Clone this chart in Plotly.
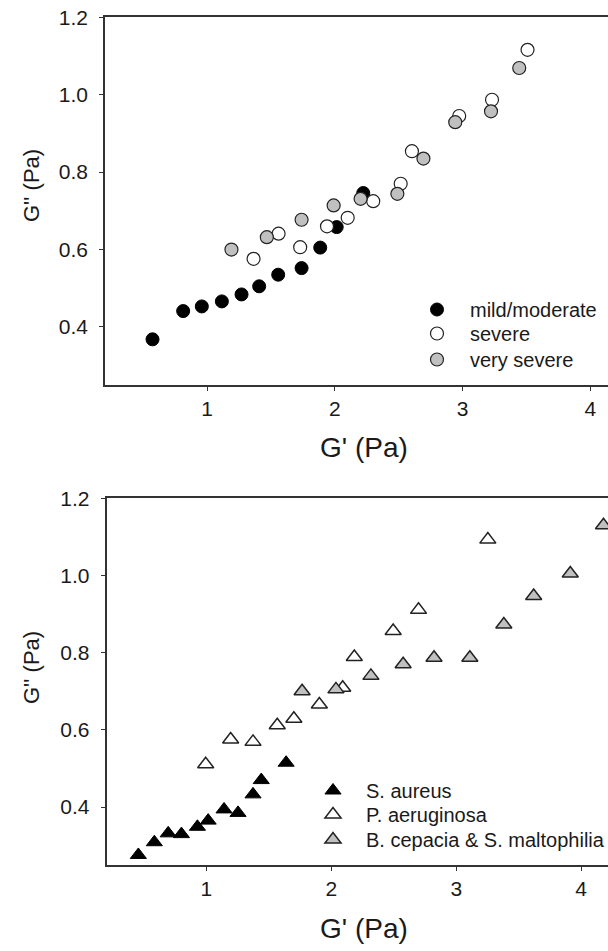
import plotly.graph_objects as go

# ---------------- data ----------------
# Top panel: disease severity
mild_x = [0.572, 0.812, 0.958, 1.115, 1.269, 1.407, 1.556, 1.739, 1.885, 2.014, 2.222]
mild_y = [0.368, 0.441, 0.453, 0.466, 0.484, 0.505, 0.535, 0.552, 0.605, 0.658, 0.746]
severe_x = [1.363, 1.559, 1.728, 1.938, 2.100, 2.300, 2.515, 2.603, 2.973, 3.230, 3.508]
severe_y = [0.576, 0.641, 0.606, 0.660, 0.682, 0.725, 0.770, 0.854, 0.945, 0.987, 1.116]
vsevere_x = [1.190, 1.467, 1.739, 1.990, 2.201, 2.489, 2.693, 2.942, 3.222, 3.443]
vsevere_y = [0.600, 0.632, 0.677, 0.714, 0.731, 0.744, 0.835, 0.929, 0.957, 1.069]

# Bottom panel: pathogens
saureus_x = [0.455, 0.583, 0.694, 0.800, 0.928, 1.014, 1.141, 1.253, 1.373, 1.439, 1.638]
saureus_y = [0.276, 0.309, 0.332, 0.330, 0.349, 0.365, 0.394, 0.385, 0.433, 0.470, 0.515]
paer_x = [0.994, 1.194, 1.373, 1.567, 1.700, 1.904, 2.091, 2.184, 2.495, 2.698, 3.253]
paer_y = [0.511, 0.575, 0.569, 0.612, 0.629, 0.666, 0.709, 0.789, 0.856, 0.911, 1.093]
bcep_x = [1.766, 2.037, 2.317, 2.575, 2.822, 3.109, 3.381, 3.620, 3.913, 4.179]
bcep_y = [0.700, 0.705, 0.740, 0.770, 0.787, 0.787, 0.873, 0.947, 1.005, 1.130]

top_names = ["mild/moderate", "severe", "very severe"]
bottom_names = ["S. aureus", "P. aeruginosa", "B. cepacia & S. maltophilia"]

y_ticks = [0.4, 0.6, 0.8, 1.0, 1.2]
y_tick_text = ["0.4", "0.6", "0.8", "1.0", "1.2"]
x_ticks = [1, 2, 3, 4]
x_tick_text = ["1", "2", "3", "4"]
x_title = "G' (Pa)"
y_title = "G'' (Pa)"

# ---------------- styling ----------------
W, H = 608, 951
FONT = "Arial, Liberation Sans, sans-serif"
AX = "#333333"
TXT = "#1a1a1a"
GRAY = "#c0c0c0"
EDGE = "#222222"


def px_x(p):
    return p / W


def px_y(p):
    return 1 - p / H


fig = go.Figure()

CIRC = 13
TRI = 14
fig.add_trace(go.Scatter(x=mild_x, y=mild_y, mode="markers", name=top_names[0],
                         marker=dict(symbol="circle", size=CIRC, color="black", line=dict(color="black", width=1)),
                         xaxis="x", yaxis="y", legend="legend"))
fig.add_trace(go.Scatter(x=severe_x, y=severe_y, mode="markers", name=top_names[1],
                         marker=dict(symbol="circle", size=CIRC, color="white", line=dict(color=EDGE, width=1.2)),
                         xaxis="x", yaxis="y", legend="legend2"))
fig.add_trace(go.Scatter(x=vsevere_x, y=vsevere_y, mode="markers", name=top_names[2],
                         marker=dict(symbol="circle", size=CIRC, color=GRAY, line=dict(color=EDGE, width=1.2)),
                         xaxis="x", yaxis="y", legend="legend3"))

fig.add_trace(go.Scatter(x=saureus_x, y=saureus_y, mode="markers", name=bottom_names[0],
                         marker=dict(symbol="triangle-up", size=TRI, color="black", line=dict(color="black", width=1)),
                         xaxis="x2", yaxis="y2", legend="legend4"))
fig.add_trace(go.Scatter(x=paer_x, y=paer_y, mode="markers", name=bottom_names[1],
                         marker=dict(symbol="triangle-up", size=TRI, color="white", line=dict(color=EDGE, width=1.5)),
                         xaxis="x2", yaxis="y2", legend="legend5"))
fig.add_trace(go.Scatter(x=bcep_x, y=bcep_y, mode="markers", name=bottom_names[2],
                         marker=dict(symbol="triangle-up", size=TRI, color=GRAY, line=dict(color=EDGE, width=1.5)),
                         xaxis="x2", yaxis="y2", legend="legend6"))

axis_common = dict(showgrid=False, zeroline=False, showline=True, linecolor=AX, linewidth=1.5,
                   ticks="outside", ticklen=4, tickwidth=1.2, tickcolor=AX,
                   tickfont=dict(family=FONT, size=21, color=TXT))


def leg(xpix, toppix):
    return dict(x=px_x(xpix), y=px_y(toppix), xanchor="left", yanchor="top",
                bgcolor="rgba(0,0,0,0)", borderwidth=0, itemwidth=56,
                font=dict(family=FONT, size=20, color=TXT))


fig.update_layout(
    width=W, height=H,
    margin=dict(l=0, r=0, t=0, b=0, autoexpand=False),
    paper_bgcolor="white", plot_bgcolor="white",
    font=dict(family=FONT, color=TXT),
    xaxis=dict(domain=[px_x(105), 1], anchor="y", range=[0.2, 4.138], mirror=True,
               tickvals=x_ticks, ticktext=x_tick_text, ticklabelstandoff=0, **axis_common),
    yaxis=dict(domain=[px_y(385), px_y(17.3)], anchor="x", range=[0.25, 1.2], mirror=False,
               tickvals=y_ticks, ticktext=y_tick_text, ticklabelstandoff=7, **axis_common),
    xaxis2=dict(domain=[px_x(106.5), 1], anchor="y2", range=[0.2, 4.215], mirror=True,
                tickvals=x_ticks, ticktext=x_tick_text, ticklabelstandoff=0, **axis_common),
    yaxis2=dict(domain=[px_y(865), px_y(498.3)], anchor="x2", range=[0.25, 1.2], mirror=False,
                tickvals=y_ticks, ticktext=y_tick_text, ticklabelstandoff=7, **axis_common),
    showlegend=True,
    legend=leg(404, 290),
    legend2=leg(404, 314),
    legend3=leg(404, 340),
    legend4=leg(300, 771),
    legend5=leg(300, 795),
    legend6=leg(300, 820),
)

ann = []
ann.append(dict(text=x_title, x=px_x(364), y=px_y(448), xref="paper", yref="paper",
                showarrow=False, font=dict(family=FONT, size=28, color=TXT),
                xanchor="center", yanchor="middle"))
ann.append(dict(text=x_title, x=px_x(364), y=px_y(928), xref="paper", yref="paper",
                showarrow=False, font=dict(family=FONT, size=28, color=TXT),
                xanchor="center", yanchor="middle"))
ann.append(dict(text=y_title, x=px_x(31), y=px_y(186), xref="paper", yref="paper",
                showarrow=False, textangle=-90, font=dict(family=FONT, size=22, color=TXT),
                xanchor="center", yanchor="middle"))
ann.append(dict(text=y_title, x=px_x(31), y=px_y(668), xref="paper", yref="paper",
                showarrow=False, textangle=-90, font=dict(family=FONT, size=22, color=TXT),
                xanchor="center", yanchor="middle"))
fig.update_layout(annotations=ann)

fig.write_html("out.html")
